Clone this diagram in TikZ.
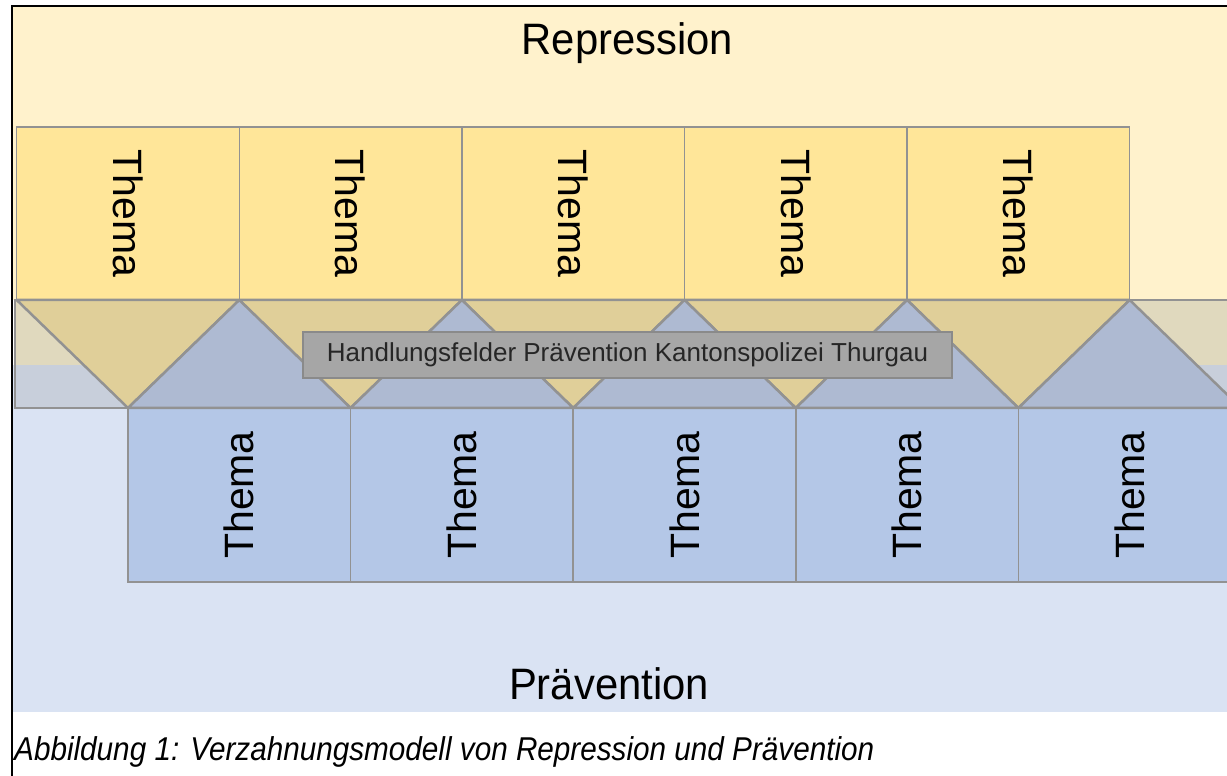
\documentclass[tikz,border=0pt]{standalone}
\usepackage{graphicx}
\usepackage{fontspec}
\setmainfont{Liberation Sans}
\newfontfamily\narrowfont{Liberation Sans}[FakeStretch=0.95]
\newfontfamily\captionfont{Liberation Sans}[FakeStretch=0.9]
\definecolor{repbg}{HTML}{FFF2CC}
\definecolor{prevbg}{HTML}{DAE3F3}
\definecolor{repbox}{HTML}{FFE699}
\definecolor{prevbox}{HTML}{B4C7E7}
\definecolor{bandtop}{HTML}{E0D9BE}
\definecolor{bandlow}{HTML}{C8CFDB}
\definecolor{reptri}{HTML}{E0CF99}
\definecolor{prevtri}{HTML}{AEBAD2}
\definecolor{edgegrey}{HTML}{929292}
\definecolor{labelgrey}{HTML}{A6A6A6}
\definecolor{labeledge}{HTML}{8A8A8A}
\definecolor{labeltext}{HTML}{262626}

\begin{document}
\begin{tikzpicture}[x=1pt,y=1pt,
		topbox/.style={draw=edgegrey,line width=1.5pt,fill=repbox,outer sep=0pt,inner sep=0pt,
			minimum width=222.6pt,minimum height=173pt,font=\fontsize{41}{41}\selectfont},
		botbox/.style={topbox,fill=prevbox,minimum height=174pt},
		downtri/.style={draw=edgegrey,line width=2.5pt,line join=round,fill=reptri},
		uptri/.style={downtri,fill=prevtri},
		title/.style={anchor=base,inner sep=0pt,font=\narrowfont\fontsize{44}{44}\selectfont},
		labelbox/.style={draw=labeledge,line width=1.5pt,fill=labelgrey,text=labeltext,
			minimum width=649pt,minimum height=46pt,inner sep=0pt,font=\fontsize{26}{26}\selectfont}]
		\useasboundingbox (0,0) rectangle (1227,776);
		
		% Hintergrund
		\fill[repbg] (12,770) rectangle (1227,476);
		\fill[prevbg] (12,411) rectangle (1227,64);
		\fill[bandtop] (15,476) rectangle (1227,411);
		\fill[bandlow] (15,411) rectangle (1227,368);
		\draw[edgegrey,line width=1.5pt] (1227,476) -- (15,476) -- (15,368) -- (1227,368);
		\draw[line width=2pt] (12,0) -- (12,770) -- (1227,770);
		
		\node[title] (rep) at (627.5,721) {Repression};
		\node[title] (prev) at (609,76) {Prävention};
		
		\node[topbox] (T1) at (128,562.5) {\rotatebox{-90}{Thema}};
		\node[topbox] (T2) at (350.6,562.5) {\rotatebox{-90}{Thema}};
		\node[topbox] (T3) at (573.2,562.5) {\rotatebox{-90}{Thema}};
		\node[topbox] (T4) at (795.8,562.5) {\rotatebox{-90}{Thema}};
		\node[topbox] (T5) at (1018.4,562.5) {\rotatebox{-90}{Thema}};
		
		\node[botbox] (B1) at (239.3,281) {\rotatebox{90}{Thema}};
		\node[botbox] (B2) at (461.9,281) {\rotatebox{90}{Thema}};
		\node[botbox] (B3) at (684.5,281) {\rotatebox{90}{Thema}};
		\node[botbox] (B4) at (907.1,281) {\rotatebox{90}{Thema}};
		\node[botbox] (B5) at (1129.7,281) {\rotatebox{90}{Thema}};
		
		% Verzahnung
		\draw[downtri] (T1.south west) -- (T1.south east) -- (B1.north west) -- cycle;
		\draw[downtri] (T2.south west) -- (T2.south east) -- (B2.north west) -- cycle;
		\draw[downtri] (T3.south west) -- (T3.south east) -- (B3.north west) -- cycle;
		\draw[downtri] (T4.south west) -- (T4.south east) -- (B4.north west) -- cycle;
		\draw[downtri] (T5.south west) -- (T5.south east) -- (B5.north west) -- cycle;
		\draw[uptri] (B1.north west) -- (B1.north east) -- (T1.south east) -- cycle;
		\draw[uptri] (B2.north west) -- (B2.north east) -- (T2.south east) -- cycle;
		\draw[uptri] (B3.north west) -- (B3.north east) -- (T3.south east) -- cycle;
		\draw[uptri] (B4.north west) -- (B4.north east) -- (T4.south east) -- cycle;
		\draw[uptri] (B5.north west) -- (B5.north east) -- (T5.south east) -- cycle;
		
		\node[labelbox] (field) at (627.5,421) {Handlungsfelder Prävention Kantonspolizei Thurgau};
		
		\node[anchor=base west,inner sep=0pt,font=\captionfont\itshape\fontsize{33}{33}\selectfont]
			(cap) at (14,15) {Abbildung 1: Verzahnungsmodell von Repression und Prävention};
	\end{tikzpicture}
\end{document}
